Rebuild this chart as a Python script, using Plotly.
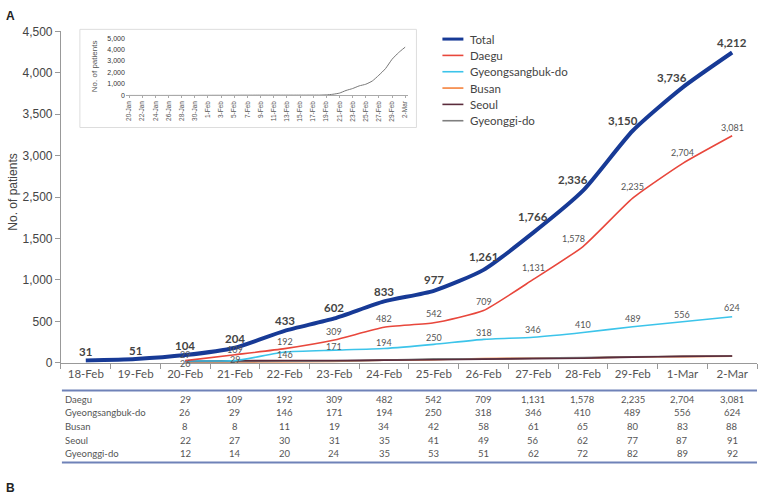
import plotly.graph_objects as go

W, H = 758, 500

dates = ["18-Feb", "19-Feb", "20-Feb", "21-Feb", "22-Feb", "23-Feb", "24-Feb",
         "25-Feb", "26-Feb", "27-Feb", "28-Feb", "29-Feb", "1-Mar", "2-Mar"]
total = [31, 51, 104, 204, 433, 602, 833, 977, 1261, 1766, 2336, 3150, 3736, 4212]
daegu = [None, None, 29, 109, 192, 309, 482, 542, 709, 1131, 1578, 2235, 2704, 3081]
gyeongbuk = [None, None, 26, 29, 146, 171, 194, 250, 318, 346, 410, 489, 556, 624]
busan = [None, None, 8, 8, 11, 19, 34, 42, 58, 61, 65, 80, 83, 88]
seoul = [None, None, 22, 27, 30, 31, 35, 41, 49, 56, 62, 77, 87, 91]
gyeonggi = [None, None, 12, 14, 20, 24, 35, 53, 51, 62, 72, 82, 89, 92]

y_tick_labels = ["0", "500", "1,000", "1,500", "2,500", "3,000", "3,500", "4,000", "4,500"]

inset_dates = ["20-Jan", "21-Jan", "22-Jan", "23-Jan", "24-Jan", "25-Jan", "26-Jan", "27-Jan",
               "28-Jan", "29-Jan", "30-Jan", "31-Jan", "1-Feb", "2-Feb", "3-Feb", "4-Feb",
               "5-Feb", "6-Feb", "7-Feb", "8-Feb", "9-Feb", "10-Feb", "11-Feb", "12-Feb",
               "13-Feb", "14-Feb", "15-Feb", "16-Feb", "17-Feb", "18-Feb", "19-Feb", "20-Feb",
               "21-Feb", "22-Feb", "23-Feb", "24-Feb", "25-Feb", "26-Feb", "27-Feb", "28-Feb",
               "29-Feb", "1-Mar", "2-Mar"]
inset_total = [1, 1, 1, 1, 2, 2, 3, 4, 4, 4, 4, 11, 12, 15, 15, 16, 18, 23, 24, 24, 27, 27,
               28, 28, 28, 28, 28, 29, 30, 31, 51, 104, 204, 433, 602, 833, 977, 1261, 1766,
               2336, 3150, 3736, 4212]
inset_ticks = inset_dates[::2]

# label placement (pixel offsets from each point: up, right)
total_dy = [9, 9, 10, 9, 10, 11, 10, 11, 13, 16, 11, 10, 10, 10]
total_dx = [0, 0, 0, 0, 0, 0, 0, 0, 0, 0, -10, -10, -10, 0]
daegu_dy = [0, 0, 6, 5, 7, 8, 9, 9, 9, 12, 8, 12, 11, 8]
daegu_dx = [0, 0, 0, 0, 0, 0, 0, 0, 0, 0, -9, 0, 0, 0]
gb_dy = [0, 0, -3, 1, -2, 4, 6, 7, 7, 8, 8, 8, 7, 9]
gb_dx = [0] * 14

COLORS = {
    "Total": "#173a96",
    "Daegu": "#e8473c",
    "Gyeongsangbuk-do": "#3cc4ea",
    "Busan": "#f5823c",
    "Seoul": "#5b2c3c",
    "Gyeonggi-do": "#7f7f7f",
}
legend_order = ["Total", "Daegu", "Gyeongsangbuk-do", "Busan", "Seoul", "Gyeonggi-do"]

series = [
    ("Busan", busan),
    ("Gyeonggi-do", gyeonggi),
    ("Seoul", seoul),
    ("Gyeongsangbuk-do", gyeongbuk),
    ("Daegu", daegu),
]

table_rows = [("Daegu", daegu), ("Gyeongsangbuk-do", gyeongbuk), ("Busan", busan),
              ("Seoul", seoul), ("Gyeonggi-do", gyeonggi)]

FONT = "Lato"
ARIAL = "Liberation Sans, Arial"

fig = go.Figure()

for name, vals in series:
    fig.add_trace(go.Scatter(
        x=dates, y=vals, name=name, mode="lines",
        line=dict(color=COLORS[name], width=1.6, shape="spline", smoothing=0.5),
        hoverinfo="skip", showlegend=False))

fig.add_trace(go.Scatter(
    x=dates, y=total, name="Total", mode="lines",
    line=dict(color=COLORS["Total"], width=4, shape="spline", smoothing=0.6),
    hoverinfo="skip", showlegend=False))

fig.add_trace(go.Scatter(
    x=inset_dates, y=inset_total, xaxis="x2", yaxis="y2", mode="lines",
    line=dict(color="#777", width=1, shape="spline", smoothing=0.5),
    showlegend=False, hoverinfo="skip"))

shapes = [
    dict(type="rect", xref="paper", yref="paper", x0=79 / W, x1=416 / W,
         y0=1 - 124 / H, y1=1 - 23 / H, line=dict(color="#dddddd", width=1),
         fillcolor="white", layer="below"),
    dict(type="line", xref="paper", yref="paper", x0=61 / W, x1=757 / W,
         y0=1 - 394.5 / H, y1=1 - 394.5 / H, line=dict(color="#6f82b8", width=2)),
    dict(type="line", xref="paper", yref="paper", x0=61 / W, x1=757 / W,
         y0=1 - 468.5 / H, y1=1 - 468.5 / H, line=dict(color="#6f82b8", width=2)),
]

annotations = [
    dict(text="<b>A</b>", x=3 / W, y=1 - 9 / H, xref="paper", yref="paper",
         xanchor="left", yanchor="middle", showarrow=False,
         font=dict(family=ARIAL, size=12, color="#222")),
    dict(text="<b>B</b>", x=3 / W, y=1 - 495 / H, xref="paper", yref="paper",
         xanchor="left", yanchor="middle", showarrow=False,
         font=dict(family=ARIAL, size=12, color="#222")),
    dict(text="No. of patients", x=12 / W, y=1 - 190 / H, xref="paper", yref="paper",
         textangle=-90, showarrow=False, xanchor="center", yanchor="middle",
         font=dict(family=ARIAL, size=12, color="#444")),
    dict(text="No. of patients", x=93 / W, y=1 - 61 / H, xref="paper", yref="paper",
         textangle=-90, showarrow=False, xanchor="center", yanchor="middle",
         font=dict(family=ARIAL, size=8, color="#555")),
]


def add_labels(vals, dys, dxs, font):
    for d, v, dy, dx in zip(dates, vals, dys, dxs):
        if v is None:
            continue
        annotations.append(dict(text=f"{v:,}", x=d, y=v, xref="x", yref="y",
                                xanchor="center", yanchor="middle", showarrow=False,
                                xshift=dx, yshift=dy, font=font))


add_labels(gyeongbuk, gb_dy, gb_dx, dict(family=FONT, size=9, color="#555"))
add_labels(daegu, daegu_dy, daegu_dx, dict(family=FONT, size=9, color="#555"))
add_labels(total, total_dy, total_dx, dict(family=FONT, size=11.5, color="#444", weight="bold"))

# legend drawn as shapes + text for exact spacing
for i, name in enumerate(legend_order):
    yy = 1 - (33 + i * 16.8) / H
    shapes.append(dict(type="line", xref="paper", yref="paper", x0=442 / W, x1=463 / W,
                       y0=yy, y1=yy,
                       line=dict(color=COLORS[name], width=3 if name == "Total" else 1.6)))
    annotations.append(dict(text=name, x=468 / W, y=yy, xref="paper", yref="paper",
                            xanchor="left", yanchor="middle", showarrow=False,
                            font=dict(family=FONT, size=11.5, color="#444")))

row_y0 = 403.5
for i, (label, vals) in enumerate(table_rows):
    yy = 1 - (row_y0 + i * 14) / H
    annotations.append(dict(text=label, x=62 / W, y=yy, xref="paper", yref="paper",
                            xanchor="left", yanchor="middle", showarrow=False,
                            font=dict(family=FONT, size=9.5, color="#555")))
    for d, v in zip(dates, vals):
        if v is None:
            continue
        annotations.append(dict(text=f"{v:,}", x=d, y=yy, xref="x", yref="paper",
                                xanchor="center", yanchor="middle", showarrow=False,
                                font=dict(family=FONT, size=9.5, color="#555")))

fig.update_layout(
    width=W, height=H,
    margin=dict(l=0, r=0, t=0, b=0),
    paper_bgcolor="white", plot_bgcolor="white",
    showlegend=False,
    xaxis=dict(domain=[60 / W, 757 / W], type="category", categoryorder="array",
               categoryarray=dates, range=[-0.5, 13.5],
               showline=True, linecolor="#999", linewidth=1,
               ticks="outside", tickson="boundaries", ticklen=5, tickcolor="#999",
               showgrid=False, zeroline=False,
               tickfont=dict(family=FONT, size=11.5, color="#555")),
    yaxis=dict(domain=[1 - 366 / H, 1 - 25 / H], range=[0, 4500],
               tickmode="array", tickvals=[i * 562.5 for i in range(9)],
               ticktext=y_tick_labels,
               showline=True, linecolor="#999", linewidth=1,
               ticks="outside", ticklen=5, tickcolor="#999",
               showgrid=False, zeroline=False,
               tickfont=dict(family=ARIAL, size=12, color="#444")),
    xaxis2=dict(domain=[125 / W, 408 / W], anchor="y2", type="category",
                categoryorder="array", categoryarray=inset_dates, range=[-0.5, 42.5],
                tickmode="array", tickvals=inset_ticks, ticktext=inset_ticks,
                tickangle=-90, showline=True, linecolor="#aaa", linewidth=1,
                ticks="outside", ticklen=2, tickcolor="#aaa",
                showgrid=False, zeroline=False,
                tickfont=dict(family=ARIAL, size=6.5, color="#555")),
    yaxis2=dict(domain=[1 - 91 / H, 1 - 32 / H], anchor="x2", range=[0, 5000],
                tickmode="array", tickvals=[0, 1000, 2000, 3000, 4000, 5000],
                ticktext=["0", "1,000", "2,000", "3,000", "4,000", "5,000"],
                showline=False, ticks="", showgrid=False, zeroline=False,
                tickfont=dict(family=ARIAL, size=7, color="#333")),
    shapes=shapes,
    annotations=annotations,
)

fig.write_html("out.html")
